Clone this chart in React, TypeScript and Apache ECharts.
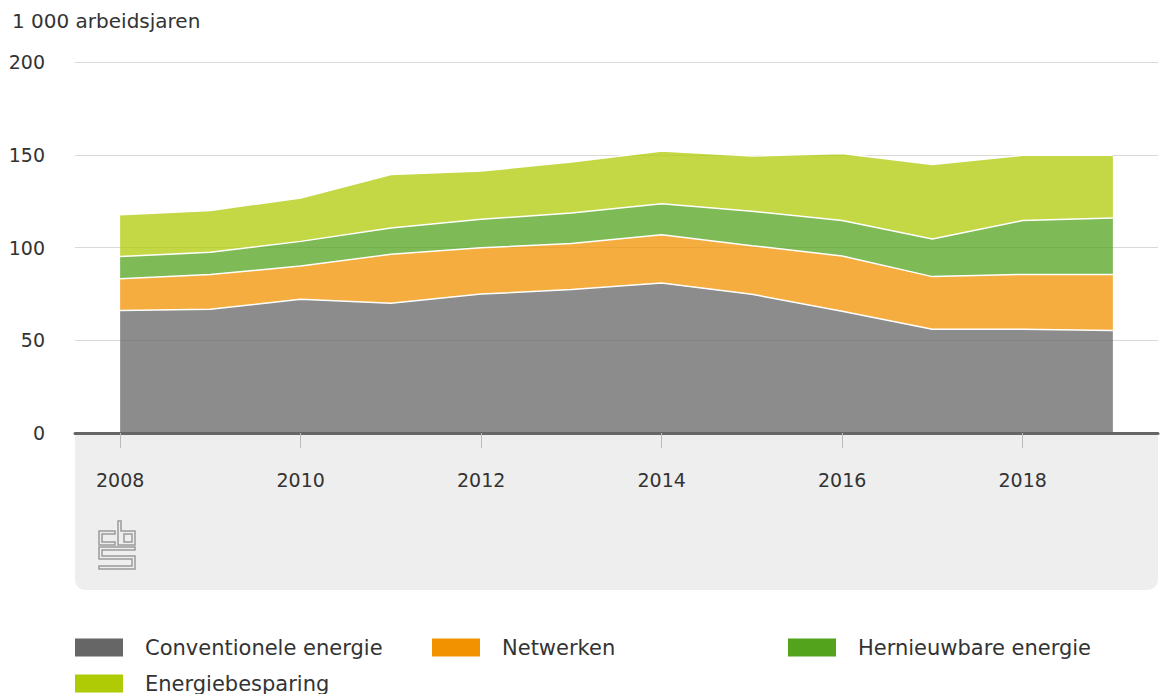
import React, { useEffect, useRef } from "react";
import * as echarts from "echarts";

const years = ["2008", "2009", "2010", "2011", "2012", "2013", "2014", "2015", "2016", "2017", "2018", "2019"];
const conventioneel = [66.0, 66.7, 72.1, 69.9, 74.9, 77.3, 80.9, 74.8, 65.6, 55.9, 55.9, 55.3];
const netwerken = [17.2, 18.7, 17.9, 26.4, 25.0, 24.8, 26.0, 26.2, 29.8, 28.4, 29.6, 30.1];
const hernieuwbaar = [11.9, 12.0, 13.3, 14.2, 15.3, 16.5, 16.7, 18.5, 19.1, 20.3, 29.0, 30.5];
const besparing = [22.6, 22.6, 23.4, 28.9, 26.0, 27.5, 28.4, 29.8, 36.2, 40.1, 35.2, 33.8];
const seriesNames = ["Conventionele energie", "Netwerken", "Hernieuwbare energie", "Energiebesparing"];
const seriesColors = ["#666666", "#f39200", "#53a31d", "#afcb05"];
const yTicks = { min: 0, max: 200, interval: 50 };
const unitLabel = "1 000 arbeidsjaren";

const logoPath =
  "M16,10 H0 V24 H16 V21 H3 V13 H16 Z " +
  "M19,0 H22 V10 H36 V24 H19 Z M25,13 V21 H33 V13 Z " +
  "M0,26 H36 V29 H3 V35 H36 V48 H0 V45 H33 V38 H0 Z";

let registered = false;
function registerLogo() {
  if (registered) return;
  echarts.graphic.registerShape("cbslogo", echarts.graphic.extendPath(logoPath, {}));
  registered = true;
}

export default function App() {
  const ref = useRef<HTMLDivElement>(null);
  useEffect(() => {
    if (!ref.current) return;
    registerLogo();
    const chart = echarts.init(ref.current, null, { renderer: "svg" });
    const font = '"DejaVu Sans", Verdana, sans-serif';
    const data = [conventioneel, netwerken, hernieuwbaar, besparing];
    const legendPos = [
      { left: 75, top: 637 },
      { left: 432, top: 637 },
      { left: 788, top: 637 },
      { left: 75, top: 673 },
    ];
    chart.setOption({
      animation: false,
      textStyle: { fontFamily: font },
      title: {
        text: unitLabel,
        left: 12,
        top: 11,
        padding: 0,
        textStyle: { fontSize: 20, fontWeight: "normal", color: "#333", fontFamily: font },
      },
      legend: seriesNames.map((n, i) => ({
        data: [n],
        left: legendPos[i].left,
        top: legendPos[i].top,
        padding: 0,
        itemWidth: 48,
        itemHeight: 18,
        icon: "rect",
        selectedMode: false,
        itemStyle: { opacity: 1 },
        textStyle: { fontSize: 21, color: "#333", padding: [0, 0, 0, 17], fontFamily: font },
      })),
      grid: { left: 75, right: 2, top: 62, bottom: 261, containLabel: false },
      xAxis: {
        type: "category",
        data: years,
        boundaryGap: true,
        axisLine: { lineStyle: { color: "#666", width: 3 } },
        axisTick: { show: true, alignWithLabel: true, interval: 1, length: 15, lineStyle: { color: "#bbb", width: 1 } },
        axisLabel: { interval: 1, margin: 37, fontSize: 19, color: "#333", fontFamily: font },
        splitLine: { show: false },
      },
      yAxis: {
        type: "value",
        min: yTicks.min,
        max: yTicks.max,
        interval: yTicks.interval,
        axisLine: { show: false },
        axisTick: { show: false },
        axisLabel: { margin: 30, fontSize: 19, color: "#333", fontFamily: font },
        splitLine: { lineStyle: { color: "#d9d9d9", width: 1 } },
      },
      graphic: [
        {
          type: "rect",
          z: -10,
          silent: true,
          shape: { x: 75, y: 433, width: 1083, height: 157, r: [0, 0, 10, 10] },
          style: { fill: "#eeeeee" },
        },
        {
          type: "cbslogo",
          x: 99,
          y: 521,
          scaleX: 1,
          scaleY: 1,
          z: 5,
          silent: true,
          style: { fill: "none", stroke: "#9a9a9a", lineWidth: 1.5 },
        },
      ],
      series: seriesNames.map((n, i) => ({
        name: n,
        type: "line",
        stack: "total",
        data: data[i],
        symbol: "none",
        showSymbol: false,
        itemStyle: { color: seriesColors[i] },
        lineStyle: { color: "#ffffff", width: 1.5 },
        areaStyle: { color: seriesColors[i], opacity: 0.75 },
        emphasis: { disabled: true },
      })),
    });
    return () => chart.dispose();
  }, []);
  return <div ref={ref} style={{ position: "absolute", left: 0, top: 0, width: 1160, height: 694 }} />;
}
